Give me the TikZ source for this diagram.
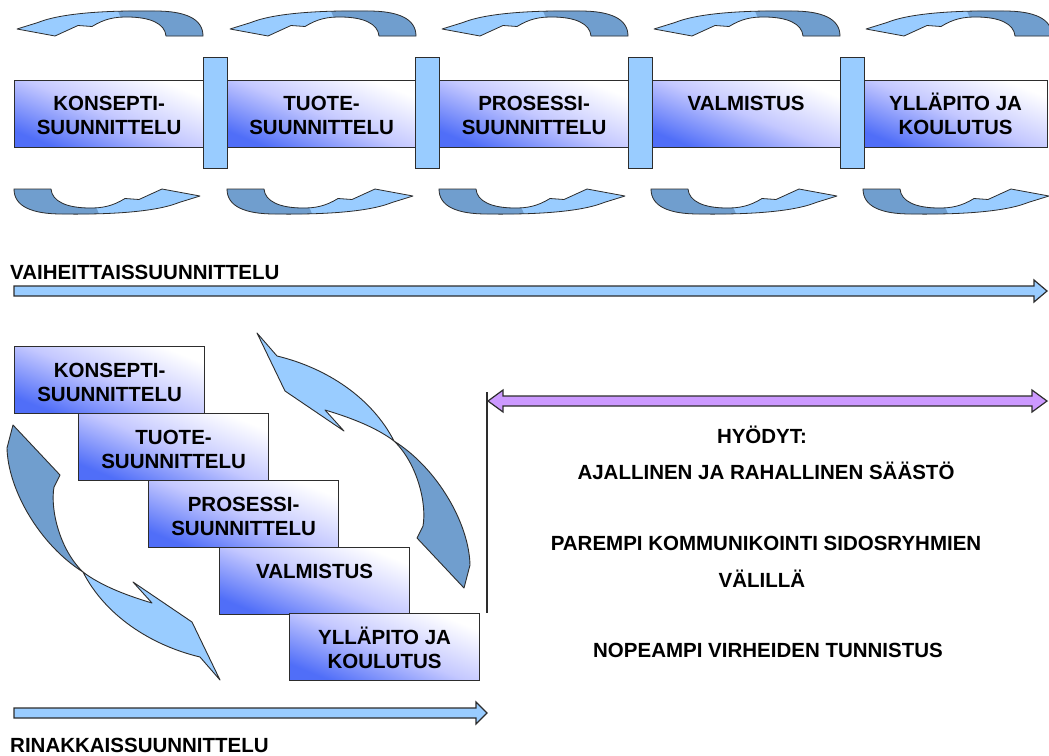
\documentclass[tikz,border=0pt]{standalone}
\usepackage{fontspec}
\setmainfont{Liberation Sans}
\usetikzlibrary{calc}
\definecolor{lblue}{RGB}{153,204,255}
\definecolor{dblue}{RGB}{112,158,206}
\definecolor{gblue}{RGB}{80,110,248}
\definecolor{gmid}{RGB}{196,200,255}
\definecolor{lpurple}{RGB}{204,153,255}
\definecolor{edge}{RGB}{45,45,45}

\newcommand\fatarrow[4]{%
  \path[#1] ($(#2)+(0,-5)$) -- ($(#3)+(-#4,-5)$) -- ($(#3)+(-#4,-11)$) -- (#3)
    -- ($(#3)+(-#4,11)$) -- ($(#3)+(-#4,5)$) -- ($(#2)+(0,5)$) -- cycle;}
\newcommand\dblarrow[4]{%
  \path[#1] (#2) -- ($(#2)+(#4,-11)$) -- ($(#2)+(#4,-5)$) -- ($(#3)+(-#4,-5)$)
    -- ($(#3)+(-#4,-11)$) -- (#3) -- ($(#3)+(-#4,11)$) -- ($(#3)+(-#4,5)$)
    -- ($(#2)+(#4,5)$) -- ($(#2)+(#4,11)$) -- cycle;}

\def\curlpath{(-93,5.5) -- (-55,12.5) -- (-32,2) -- (-18,3)
  .. controls (-5,-5) and (5,-6.5) .. (17,-6.5)
  .. controls (40,-6.5) and (55,0) .. (56,12.5) -- (93,12.5)
  .. controls (93,-5) and (75,-12.5) .. (45,-12.5)
  .. controls (10,-13) and (-45,-12) .. (-72,-1) -- cycle}
\newcommand\smallcurl{%
  \fill[lblue] \curlpath;
  \begin{scope}
    \clip \curlpath;
    \fill[dblue] (5,-20) -- (15,5) -- (15,20) -- (100,20) -- (100,-20) -- cycle;
  \end{scope}
  \draw[edge, line width=0.8pt, line join=round] \curlpath;}

\def\bigtail{(13,425) -- (7,448) .. controls (8,490) and (40,545) .. (83,572) .. controls (60,550) and (50,510) .. (54,487) -- (60,475) -- cycle}
\def\bighead{(83,572) .. controls (105,615) and (150,645) .. (200,657) -- (220,680) -- (192,622) -- (133,582) -- (152,603) .. controls (125,595) and (100,585) .. (83,572) -- cycle}
\newcommand\bigcurl{%
  \draw[edge, line width=0.9pt, line join=round, fill=dblue] \bigtail;
  \draw[edge, line width=0.9pt, line join=round, fill=lblue] \bighead;}

\begin{document}
\begin{tikzpicture}[x=1pt,y=-1pt,
  segbox/.style={draw=edge, line width=1.2pt, top color=white, bottom color=gblue,
    middle color=gmid, shading angle=-22, inner sep=0pt, anchor=north west,
    minimum height=67pt},
  connbox/.style={draw=edge, line width=1.2pt, fill=lblue, inner sep=0pt,
    anchor=north west, minimum width=24pt, minimum height=111pt},
  lbl/.style={font=\fontsize{20.5}{24}\selectfont\bfseries, align=center,
    inner sep=0pt, text=black},
  arrowbox/.style={draw=edge, line width=1.2pt, fill=lblue, line join=miter},
  purplebox/.style={draw=edge, line width=1.2pt, fill=lpurple, line join=miter}]

\fill[white] (0,0) rectangle (1049,755);
\useasboundingbox (0,0) rectangle (1049,755);

% ---- curved arrows above and below the bar
\foreach \dx in {0,213,425,637,849}{
  \begin{scope}[shift={(110+\dx,23.5)}] \smallcurl \end{scope}
  \begin{scope}[shift={(107+\dx,201.5)}, rotate=180] \smallcurl \end{scope}
}

% ---- sequential bar
\node[segbox, minimum width=189pt] (s1) at (14,80) {};
\node[segbox, minimum width=188pt] (s2) at (227,80) {};
\node[segbox, minimum width=189pt] (s3) at (439,80) {};
\node[segbox, minimum width=189pt] (s4) at (651,80) {};
\node[segbox, minimum width=184pt] (s5) at (863,80) {};
\node[connbox] (c1) at (203,57) {};
\node[connbox] (c2) at (415,57) {};
\node[connbox] (c3) at (628,57) {};
\node[connbox] (c4) at (840,57) {};

\node[lbl, anchor=north] (s1t) at ([yshift=-11pt]s1.north) {\rule{0pt}{19pt}KONSEPTI-\\SUUNNITTELU};
\node[lbl, anchor=north] (s2t) at ([yshift=-11pt]s2.north) {\rule{0pt}{19pt}TUOTE-\\SUUNNITTELU};
\node[lbl, anchor=north] (s3t) at ([yshift=-11pt]s3.north) {\rule{0pt}{19pt}PROSESSI-\\SUUNNITTELU};
\node[lbl, anchor=north] (s4t) at ([yshift=-11pt]s4.north) {\rule{0pt}{19pt}VALMISTUS};
\node[lbl, anchor=north] (s5t) at ([yshift=-11pt]s5.north) {\rule{0pt}{19pt}YLLÄPITO JA\\KOULUTUS};

% ---- sequential arrow
\node[lbl, anchor=base west] (vlabel) at (10,279) {VAIHEITTAISSUUNNITTELU};
\coordinate (va1) at (14,291);
\coordinate (va2) at (1047,291);
\fatarrow{arrowbox}{va1}{va2}{13}

% ---- staircase
\node[segbox, minimum width=190pt] (b1) at (14,346) {};
\node[segbox, minimum width=190pt] (b2) at (78,413) {};
\node[segbox, minimum width=190pt] (b3) at (148,480) {};
\node[segbox, minimum width=190pt] (b4) at (219,547) {};
\node[segbox, minimum width=190pt] (b5) at (289,613) {};
\node[lbl, anchor=north] (b1t) at ([yshift=-12pt]b1.north) {\rule{0pt}{19pt}KONSEPTI-\\SUUNNITTELU};
\node[lbl, anchor=north] (b2t) at ([yshift=-12pt]b2.north) {\rule{0pt}{19pt}TUOTE-\\SUUNNITTELU};
\node[lbl, anchor=north] (b3t) at ([yshift=-12pt]b3.north) {\rule{0pt}{19pt}PROSESSI-\\SUUNNITTELU};
\node[lbl, anchor=north] (b4t) at ([yshift=-12pt]b4.north) {\rule{0pt}{19pt}VALMISTUS};
\node[lbl, anchor=north] (b5t) at ([yshift=-12pt]b5.north) {\rule{0pt}{19pt}YLLÄPITO JA\\KOULUTUS};

% ---- big curved arrows
\bigcurl
\begin{scope}[rotate around={180:(238.5,506.5)}] \bigcurl \end{scope}

% ---- concurrent arrow
\coordinate (ra1) at (14,713);
\coordinate (ra2) at (487,713);
\fatarrow{arrowbox}{ra1}{ra2}{11}
\node[lbl, anchor=base west] (rlabel) at (10,752) {RINAKKAISSUUNNITTELU};

% ---- benefits
\coordinate (vl1) at (487,392);
\coordinate (vl2) at (487,613);
\draw[edge, line width=1.6pt] (vl1) -- (vl2);
\coordinate (pa1) at (488,401);
\coordinate (pa2) at (1047,401);
\dblarrow{purplebox}{pa1}{pa2}{15}

\node[lbl, anchor=base] (h0) at (762,443) {HYÖDYT:};
\node[lbl, anchor=base] (h1) at (766,479) {AJALLINEN JA RAHALLINEN SÄÄSTÖ};
\node[lbl, anchor=base] (h2) at (766,550) {PAREMPI KOMMUNIKOINTI SIDOSRYHMIEN};
\node[lbl, anchor=base] (h3) at (762,587) {VÄLILLÄ};
\node[lbl, anchor=base] (h4) at (768,657) {NOPEAMPI VIRHEIDEN TUNNISTUS};
\end{tikzpicture}
\end{document}
